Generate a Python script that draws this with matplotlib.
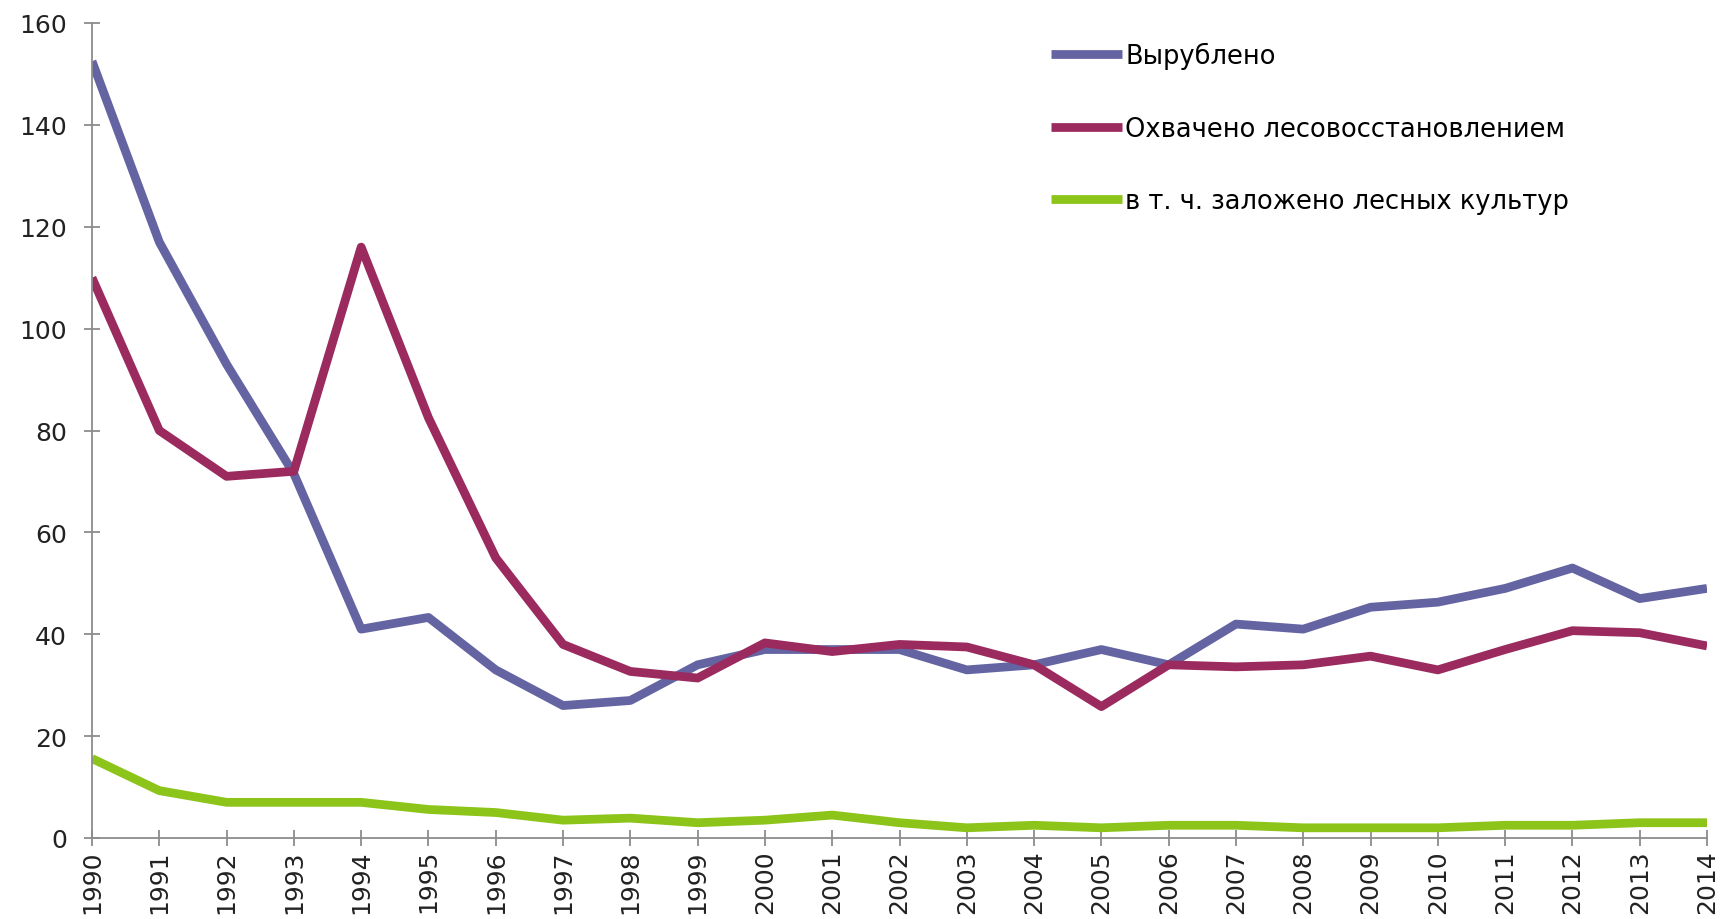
import matplotlib
matplotlib.use("Agg")
import matplotlib.pyplot as plt

years = list(range(1990, 2015))
vyrubleno = [152.5, 117, 93, 71.5, 41, 43.3, 33, 26, 27, 34, 37, 37, 37, 33, 34,
             37, 34, 42, 41, 45.3, 46.3, 49, 53, 47, 49]
ohvacheno = [110, 80, 71, 72, 116, 82.5, 55, 38, 32.7, 31.4, 38.3, 36.6, 38, 37.5, 34,
             25.8, 34, 33.6, 34, 35.7, 33, 37, 40.7, 40.3, 37.7]
kultury = [15.6, 9.3, 7, 7, 7, 5.6, 5, 3.5, 3.9, 3, 3.5, 4.5, 3, 2, 2.5,
           2, 2.5, 2.5, 2, 2, 2, 2.5, 2.5, 3, 3]
labels = ["Вырублено", "Охвачено лесовосстановлением", "в т. ч. заложено лесных культур"]
colors = ["#6464a2", "#9b2a5f", "#8cc41a"]

plt.rcParams['font.family'] = ['DejaVu Sans']

fig = plt.figure(figsize=(17.29, 9.2), dpi=100)
ax = fig.add_axes([92/1729, 1 - 839/920, (1707 - 92)/1729, (839 - 24)/920])

for data, lab, col in zip([vyrubleno, ohvacheno, kultury], labels, colors):
    ax.plot(years, data, color=col, lw=6.3, label=lab,
            solid_joinstyle='round', solid_capstyle='butt')

ax.set_xlim(1990, 2014)
ax.set_ylim(0, 160)
ax.set_xticks(years)
ax.set_xticklabels([str(y) for y in years], rotation=90)
ax.set_yticks(range(0, 161, 20))

for s in ['top', 'right']:
    ax.spines[s].set_visible(False)
for s in ['left', 'bottom']:
    ax.spines[s].set_color('#8c8c8c')
    ax.spines[s].set_linewidth(1.3)

ax.tick_params(axis='y', direction='inout', length=12, width=1.3, color='#8c8c8c',
               labelsize=18, labelcolor='#222222', pad=12)
ax.tick_params(axis='x', direction='inout', length=12, width=1.3, color='#8c8c8c',
               labelsize=18, labelcolor='#222222', pad=2)

leg = ax.legend(loc='upper left', bbox_to_anchor=(1051/1729, 1 - 42.5/920),
                bbox_transform=fig.transFigure, frameon=False, fontsize=18.5,
                handlelength=2.77, handletextpad=0.12, labelspacing=1.82,
                borderpad=0, borderaxespad=0)

fig.savefig("out.png", dpi=100, facecolor='white')
